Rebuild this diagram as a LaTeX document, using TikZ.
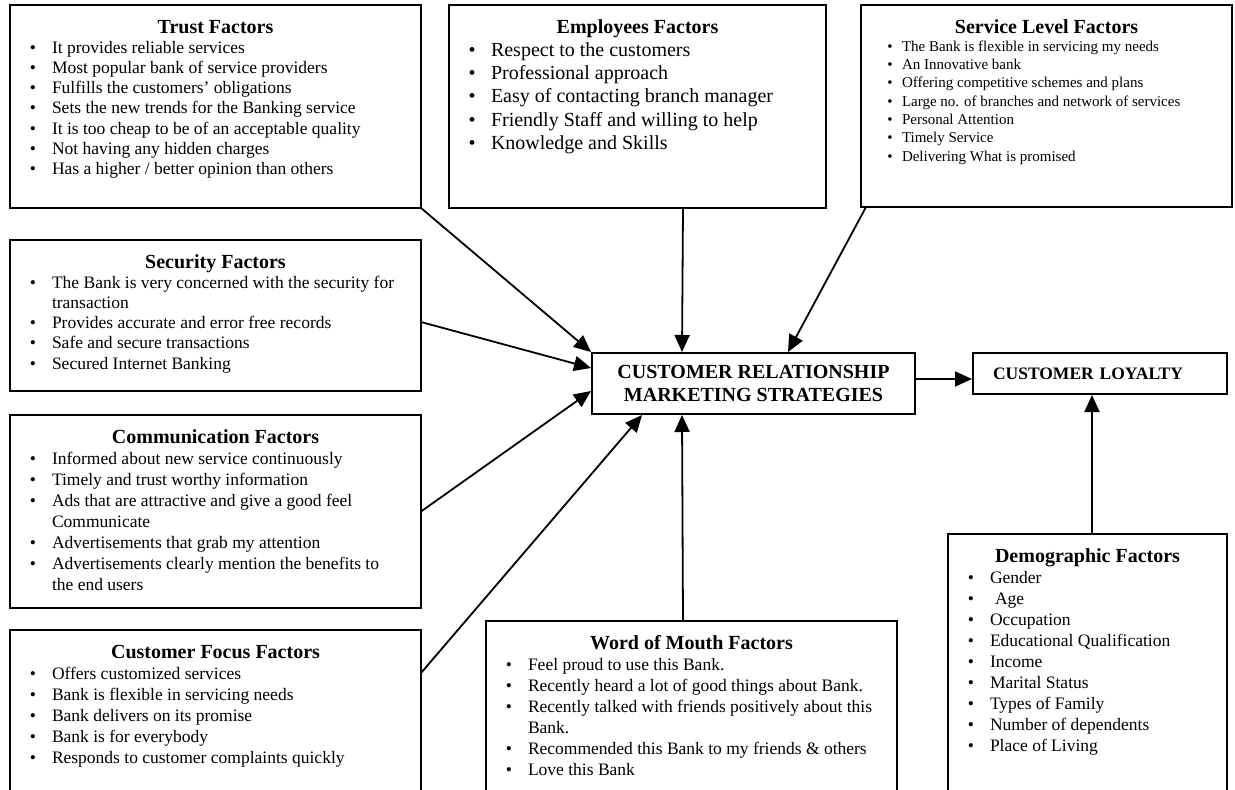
\documentclass[tikz,border=0pt]{standalone}
\usepackage{fontspec}
\setmainfont{Liberation Serif}
\usepackage{enumitem}
\usepackage{tikz}
\usetikzlibrary{arrows.meta}
\setlist[itemize]{nosep,label=\textbullet,leftmargin=42pt,labelsep=16pt}
\newcommand{\factorbox}[5][]{%
\begin{minipage}[t][#3][t]{#2}
{\centering\bfseries\fontsize{20}{22}\selectfont\rule{0pt}{28pt}#4\par}
\raggedright
\begin{itemize}[#1]
#5
\end{itemize}
\end{minipage}}
\tikzstyle{factor}=[draw,line width=2pt,rectangle,anchor=north west,
        inner sep=0pt,outer sep=0pt,font=\fontsize{17.5}{21}\selectfont]
\tikzstyle{core}=[draw,line width=2pt,rectangle,inner sep=0pt,
        font=\bfseries\fontsize{20}{23}\selectfont]
\tikzstyle{link}=[-{Triangle[length=17pt,width=15pt]},line width=1.8pt]

\begin{document}
\begin{tikzpicture}[x=1pt,y=-1pt]
\useasboundingbox (0,0) rectangle (1235,790);
\clip (0,0) rectangle (1235,790);
\node[factor,font=\fontsize{17.5}{20.2}\selectfont] (trust) at (10,5) {\factorbox{411pt}{203pt}{Trust Factors}{
  \item It provides reliable services
  \item Most popular bank of service providers
  \item Fulfills the customers’ obligations
  \item Sets the new trends for the Banking service
  \item It is too cheap to be of an acceptable quality
  \item Not having any hidden charges
  \item Has a higher / better opinion than others}};
\node[factor,font=\fontsize{20}{23.3}\selectfont] (empl) at (449,5) {\factorbox[labelsep=15.5pt]{377pt}{203pt}{Employees Factors}{
  \item Respect to the customers
  \item Professional approach
  \item Easy of contacting branch manager
  \item Friendly Staff and willing to help
  \item Knowledge and Skills}};
\node[factor,font=\fontsize{15}{18.3}\selectfont] (serv) at (861,5) {\factorbox[leftmargin=41pt,labelsep=9.5pt]{371pt}{202pt}{Service Level Factors}{
  \item The Bank is flexible in servicing my needs
  \item An Innovative bank
  \item Offering competitive schemes and plans
  \item Large no. of branches and network of services
  \item Personal Attention
  \item Timely Service
  \item Delivering What is promised}};
\node[factor,font=\fontsize{17.5}{20.2}\selectfont] (secu) at (10,240) {\factorbox{411pt}{151pt}{Security Factors}{
  \item The Bank is very concerned with the security for\newline transaction
  \item Provides accurate and error free records
  \item Safe and secure transactions
  \item Secured Internet Banking}};
\node[factor] (comm) at (10,415) {\factorbox{411pt}{193pt}{Communication Factors}{
  \item Informed about new service continuously
  \item Timely and trust worthy information
  \item Ads that are attractive and give a good feel\newline Communicate
  \item Advertisements that grab my attention
  \item Advertisements clearly mention the benefits to\newline the end users}};
\node[factor] (focus) at (10,630) {\factorbox{411pt}{180pt}{Customer Focus Factors}{
  \item Offers customized services
  \item Bank is flexible in servicing needs
  \item Bank delivers on its promise
  \item Bank is for everybody
  \item Responds to customer complaints quickly}};
\node[factor] (wom) at (486,621) {\factorbox{411pt}{190pt}{Word of Mouth Factors}{
  \item Feel proud to use this Bank.
  \item Recently heard a lot of good things about Bank.
  \item Recently talked with friends positively about this\newline Bank.
  \item Recommended this Bank to my friends \& others
  \item Love this Bank}};
\node[factor] (demo) at (948,534) {\factorbox{279pt}{276pt}{Demographic Factors}{
  \item Gender
  \item \hspace{5pt}Age
  \item Occupation
  \item Educational Qualification
  \item Income
  \item Marital Status
  \item Types of Family
  \item Number of dependents
  \item Place of Living}};
\node[core,minimum width=323pt,minimum height=61pt,align=center] (crm) at (753.5,383.5) {CUSTOMER RELATIONSHIP\\MARKETING STRATEGIES};
\node[core,font=\bfseries\fontsize{17.5}{20}\selectfont,minimum height=41pt,
      inner xsep=20pt,text width=214pt,align=left] (loyal) at (1100,373.5) {CUSTOMER LOYALTY};
%Drawing Edges
\draw[link] (trust.south east) -- (crm.north west);
\draw[link] ([yshift=-6.5pt]secu.east) -- ([yshift=-16pt]crm.north west);
\draw[link] (comm.east) -- ([yshift=-39pt]crm.north west);
\draw[link] ([yshift=-43pt]focus.north east) -- ([xshift=51pt]crm.south west);
\draw[link] ([xshift=197pt]wom.north west) -- ([xshift=91pt]crm.south west);
\draw[link] ([xshift=234pt]empl.south west) -- ([xshift=91pt]crm.north west);
\draw[link] ([xshift=5pt]serv.south west) -- ([xshift=197pt]crm.north west);
\draw[link] ([yshift=4.5pt]crm.east) -- ([yshift=4.5pt]crm.east -| loyal.west);
\draw[link] ([xshift=4.5pt]demo.north) -- ([xshift=4.5pt]demo.north |- loyal.south);
\end{tikzpicture}
\end{document}
